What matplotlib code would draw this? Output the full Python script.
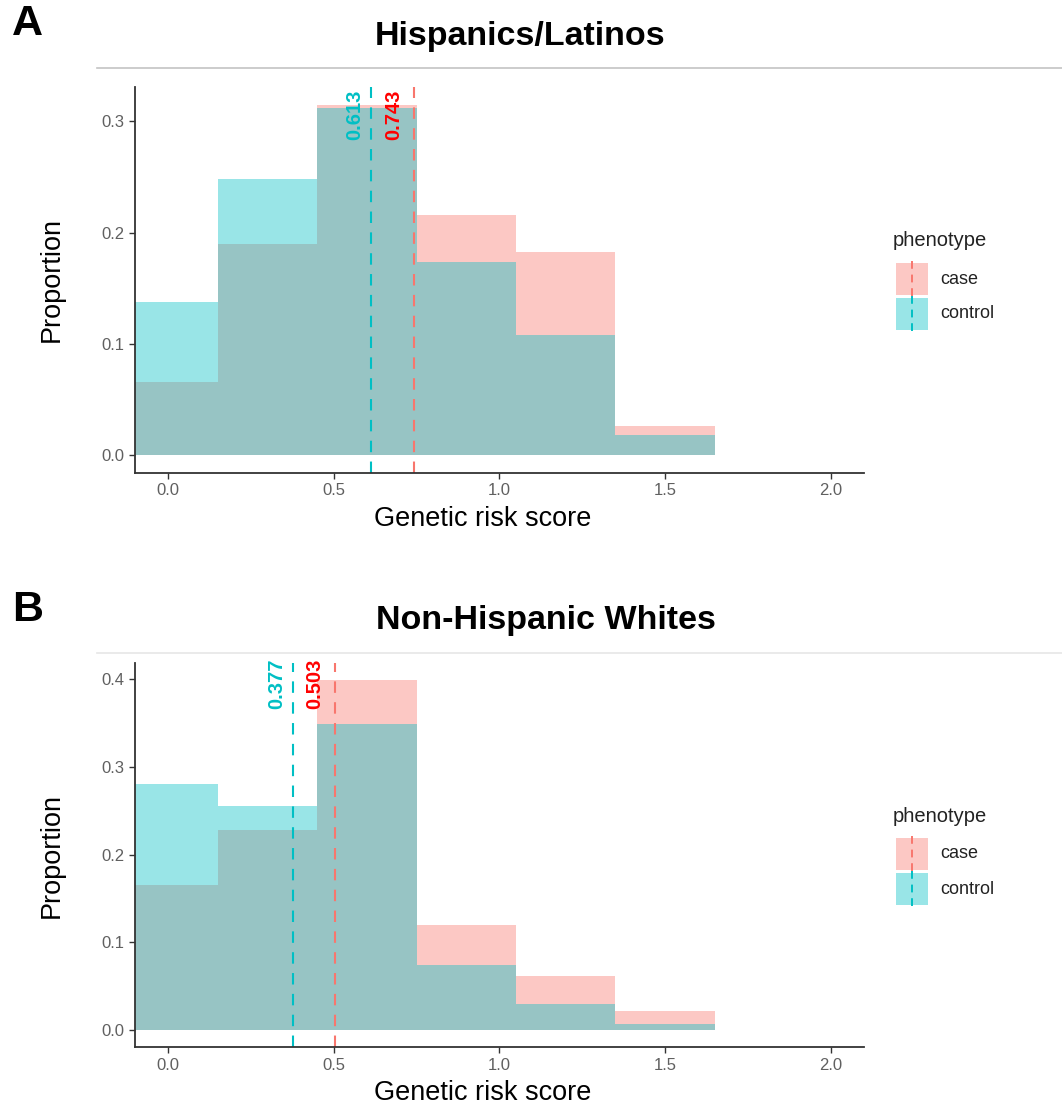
import matplotlib.pyplot as plt
from matplotlib.patches import Rectangle
from matplotlib.lines import Line2D

plt.rcParams['font.family'] = ['Liberation Sans', 'DejaVu Sans']

# ─── Data ─────────────────────────────────────────────────────────────────────
BIN_CENTERS = [0.0, 0.3, 0.6, 0.9, 1.2, 1.5]
BIN_WIDTH = 0.3

PANELS = ["A", "B"]
TITLES = ["Hispanics/Latinos", "Non-Hispanic Whites"]

case_A    = [0.066, 0.190, 0.315, 0.216, 0.183, 0.026]
control_A = [0.138, 0.248, 0.312, 0.174, 0.108, 0.018]
case_B    = [0.165, 0.228, 0.399, 0.120, 0.061, 0.021]
control_B = [0.281, 0.255, 0.349, 0.074, 0.029, 0.007]

mean_case    = [0.743, 0.503]
mean_control = [0.613, 0.377]
label_top    = [0.328, 0.424]

X_TICKS = [0.0, 0.5, 1.0, 1.5, 2.0]
Y_TICKS = [[0.0, 0.1, 0.2, 0.3], [0.0, 0.1, 0.2, 0.3, 0.4]]

CASE_COL = "#F8766D"
CTRL_COL = "#00BFC4"
TXT_RED  = "#FF0000"

W, H = 1062, 1108
fig = plt.figure(figsize=(W / 100, H / 100), dpi=100)


def fx(px):
    return px / W


def fy(py):
    return 1 - py / H


# axes boxes in pixels: left, top, right, bottom
boxes = [(135, 87, 864, 473), (135, 662.7, 864, 1047.3)]
cases = [case_A, case_B]
controls = [control_A, control_B]
title_x = [520, 546]
title_y = [37, 620]
letter_y = [24, 610]
sep_y = [68, 653]
sep_col = ["#C4C4C4", "#E6E6E6"]
dy_leg = [0, 575]

for i in range(2):
    l, t, r, b = boxes[i]
    ax = fig.add_axes([fx(l), fy(b), (r - l) / W, (b - t) / H])

    ax.bar(BIN_CENTERS, cases[i], width=BIN_WIDTH, color=CASE_COL,
           alpha=0.4, linewidth=0)
    ax.bar(BIN_CENTERS, controls[i], width=BIN_WIDTH, color=CTRL_COL,
           alpha=0.4, linewidth=0)

    ax.axvline(mean_control[i], color=CTRL_COL, ls=(0, (5.5, 4.5)), lw=1.5)
    ax.axvline(mean_case[i], color=CASE_COL, ls=(0, (5.5, 4.5)), lw=1.5)

    ax.text(mean_control[i] - 0.022, label_top[i], f"{mean_control[i]:.3f}",
            rotation=90, ha="right", va="top", color=CTRL_COL,
            fontsize=14.5, fontweight="bold")
    ax.text(mean_case[i] - 0.032, label_top[i], f"{mean_case[i]:.3f}",
            rotation=90, ha="right", va="top", color=TXT_RED,
            fontsize=14.5, fontweight="bold")

    m = max(max(cases[i]), max(controls[i]))
    ax.set_xlim(-0.1, 2.1)
    ax.set_ylim(-0.05 * m, 1.05 * m)
    ax.set_xticks(X_TICKS)
    ax.set_xticklabels([f"{v:.1f}" for v in X_TICKS])
    ax.set_yticks(Y_TICKS[i])
    ax.set_yticklabels([f"{v:.1f}" for v in Y_TICKS[i]])

    for s in ["top", "right"]:
        ax.spines[s].set_visible(False)
    for s in ["left", "bottom"]:
        ax.spines[s].set_color("#333333")
        ax.spines[s].set_linewidth(1.3)
    ax.tick_params(length=4, width=1, color="#333333", labelcolor="#606060",
                   labelsize=12)

    ax.set_xlabel("Genetic risk score", fontsize=19.5)
    ax.xaxis.set_label_coords(0.477, -0.085)
    ax.set_ylabel("Proportion", fontsize=19.5)
    ax.yaxis.set_label_coords(-0.096, 0.5)

    # titles, panel letters and separator line
    fig.text(fx(title_x[i]), fy(title_y[i]), TITLES[i],
             ha="center", va="center", fontsize=24.5, fontweight="bold")
    fig.text(fx(12), fy(letter_y[i]), PANELS[i], ha="left", va="center",
             fontsize=31, fontweight="bold")
    fig.add_artist(Line2D([fx(97), fx(1062)], [fy(sep_y[i]), fy(sep_y[i])],
                          color=sep_col[i], lw=1.2, transform=fig.transFigure))

    # legend
    d = dy_leg[i]
    fig.text(fx(893), fy(241 + d), "phenotype", ha="left", va="center",
             fontsize=14.5, color="#222222")
    for j, (lab, col) in enumerate([("case", CASE_COL), ("control", CTRL_COL)]):
        top = 263 + d + j * 35
        fig.add_artist(Rectangle((fx(896), fy(top + 32)), 32 / W, 32 / H,
                                 facecolor=col, alpha=0.4, lw=0,
                                 transform=fig.transFigure))
        fig.add_artist(Line2D([fx(912), fx(912)], [fy(top - 2), fy(top + 34)],
                              color=col, lw=1.4, ls=(0, (4, 3)),
                              transform=fig.transFigure))
        fig.text(fx(940), fy(top + 16), lab, ha="left", va="center",
                 fontsize=13, color="#222222")

plt.savefig("out.png", dpi=100)
